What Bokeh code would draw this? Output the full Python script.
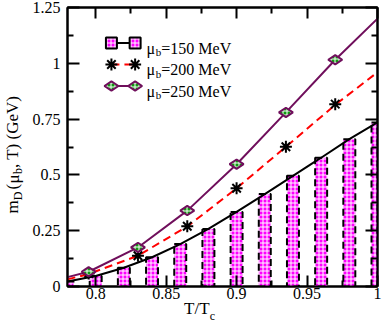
import math
from bokeh.plotting import figure
from bokeh.models import (Range1d, LinearAxis, FixedTicker, CustomJSTickFormatter, Label)
from bokeh.embed import file_html
from bokeh.resources import INLINE

# ---------------- data ----------------
# mu_b = 150 MeV : bars + solid black curve
x150 = [0.78, 0.80, 0.82, 0.84, 0.86, 0.88, 0.90, 0.92, 0.94, 0.96, 0.98, 1.00]
m150 = [0.022, 0.047, 0.084, 0.131, 0.190, 0.258, 0.334, 0.414, 0.496, 0.577, 0.660, 0.735]

# mu_b = 200 MeV : dashed red curve + asterisks
x200_line = [0.78, 0.795, 0.83, 0.865, 0.90, 0.935, 0.97, 1.00]
m200_line = [0.032, 0.056, 0.138, 0.269, 0.440, 0.626, 0.814, 0.960]
x200_pts = [0.795, 0.83, 0.865, 0.90, 0.935, 0.97]
m200_pts = [0.058, 0.138, 0.270, 0.440, 0.626, 0.817]

# mu_b = 250 MeV : solid maroon curve + diamonds
x250_line = [0.78, 0.795, 0.83, 0.865, 0.90, 0.935, 0.97, 1.00]
m250_line = [0.042, 0.066, 0.175, 0.340, 0.548, 0.780, 1.016, 1.200]
x250_pts = [0.795, 0.83, 0.865, 0.90, 0.935, 0.97]
m250_pts = [0.066, 0.175, 0.340, 0.548, 0.780, 1.016]

x_ticks = [0.8, 0.85, 0.9, 0.95, 1.0]
x_minor = [0.825, 0.875, 0.925, 0.975]
y_ticks = [0, 0.25, 0.5, 0.75, 1.0, 1.25]
y_minor = [0.125, 0.375, 0.625, 0.875, 1.125]

legend_labels = ["=150 MeV", "=200 MeV", "=250 MeV"]

# axis titles split into normal / subscript pieces
xtitle_main = ["T/T"]
xtitle_sub = ["c"]
ytitle_main = ["m", "(", "\u03bc", ", T) (GeV)"]
ytitle_sub = ["D", "b"]

# ---------------- layout ----------------
X0, X1 = 0.78, 1.0
Y0, Y1 = 0.0, 1.25
W, H = 382, 327
BL, BR, BT, BB = 63, 5, 7, 41
FL, FR = BL, W - BR          # frame, canvas pixels
FT, FB = BT, H - BB


def dx(cx):
    return X0 + (cx - FL) / (FR - FL) * (X1 - X0)


def dy(cy):
    return Y0 + (FB - cy) / (FB - FT) * (Y1 - Y0)


FONT = "Liberation Serif"
MAGENTA = "#ff00ff"
MAROON = "#700f5c"
GREEN = "#119911"

p = figure(width=W, height=H, output_backend="svg", toolbar_location=None,
           x_range=Range1d(X0, X1), y_range=Range1d(Y0, Y1),
           min_border_left=BL, min_border_right=BR, min_border_top=BT, min_border_bottom=BB)
p.grid.visible = False
p.outline_line_color = "black"
p.outline_line_width = 2
p.background_fill_color = "white"
p.border_fill_color = "white"

fmt = CustomJSTickFormatter(code="return tick.toString();")
blank = CustomJSTickFormatter(code="return '';")


def style_axis(ax, ticks, minor, major_len, labels=True):
    ax.ticker = FixedTicker(ticks=ticks, minor_ticks=minor)
    ax.formatter = fmt if labels else blank
    ax.axis_line_width = 2
    ax.axis_line_color = "black"
    ax.major_tick_in = major_len
    ax.major_tick_out = 0
    ax.minor_tick_in = 6
    ax.minor_tick_out = 0
    ax.major_tick_line_width = 2
    ax.minor_tick_line_width = 2
    ax.major_label_text_font = FONT
    ax.major_label_text_font_size = "16px"
    ax.major_label_text_color = "black"
    if not labels:
        ax.major_label_standoff = 0
        ax.axis_label_standoff = 0


style_axis(p.xaxis[0], x_ticks, x_minor, 11)
p.xaxis[0].major_label_standoff = 1
style_axis(p.yaxis[0], y_ticks, y_minor, 12)
p.yaxis[0].major_label_standoff = 7

top = LinearAxis()
style_axis(top, x_ticks, x_minor, 11, labels=False)
p.add_layout(top, "above")
right = LinearAxis()
style_axis(right, y_ticks, y_minor, 12, labels=False)
p.add_layout(right, "right")


def text_axis(side, positions, texts, size, standoff, orientation="horizontal"):
    """An axis with no line and no ticks, used only to place title text pieces."""
    ax = LinearAxis(ticker=FixedTicker(ticks=positions, minor_ticks=[]),
                    formatter=CustomJSTickFormatter(args=dict(labels=texts),
                                                    code="return labels[index];"))
    ax.axis_line_color = None
    ax.major_tick_line_color = None
    ax.minor_tick_line_color = None
    ax.major_tick_in = 0
    ax.major_tick_out = 0
    ax.minor_tick_in = 0
    ax.minor_tick_out = 0
    ax.major_label_text_font = FONT
    ax.major_label_text_font_size = f"{size}px"
    ax.major_label_text_color = "black"
    ax.major_label_standoff = standoff
    ax.major_label_orientation = orientation
    p.add_layout(ax, side)
    return ax


# x title: "T/T" then subscript "c" (pixel centres converted to data units)
text_axis("below", [dx(194.0)], xtitle_main, 17, -3)
text_axis("below", [dx(209.9)], xtitle_sub, 12, -12)

# y title: main pieces and subscript pieces, reading bottom-to-top
text_axis("left", [dy(206.4), dy(186.2), dy(178.5), dy(131.4)], ytitle_main, 17, 7, "parallel")
text_axis("left", [dy(195.4), dy(170.6)], ytitle_sub, 12, -25, "parallel")

# ---------------- data glyphs ----------------
p.vbar(x=x150, top=m150, bottom=0, width=0.0085,
       fill_color=MAGENTA, hatch_pattern="+", hatch_color="white", hatch_scale=4, hatch_weight=1,
       line_color="black", line_width=2, line_dash="7 4")
p.line(x150, m150, line_color="black", line_width=2)
p.line(x200_line, m200_line, line_color="red", line_width=2, line_dash="8 5")
p.line(x250_line, m250_line, line_color=MAROON, line_width=2)
p.scatter(x200_pts, m200_pts, marker="asterisk", size=12, line_color="black", line_width=2)
p.scatter(x250_pts, m250_pts, marker="diamond", size=14, angle=math.pi / 2,
          fill_color=GREEN, hatch_pattern="+", hatch_color="white", hatch_scale=4, hatch_weight=1,
          line_color=MAROON, line_width=2)

# ---------------- legend (drawn by hand to allow subscripts) ----------------
rows = [42.5, 64, 85.5]
sx = [107.5, 131.5]
lx = [dx(sx[0]), dx(sx[1])]
p.line(lx, [dy(rows[0])] * 2, line_color="black", line_width=2)
p.scatter(lx, [dy(rows[0])] * 2, marker="square", size=11,
          fill_color=MAGENTA, hatch_pattern="+", hatch_color="white", hatch_scale=4, hatch_weight=1,
          line_color="black", line_width=2)
p.line(lx, [dy(rows[1])] * 2, line_color="red", line_width=2, line_dash="8 5")
p.scatter(lx, [dy(rows[1])] * 2, marker="asterisk", size=12, line_color="black", line_width=2)
p.line(lx, [dy(rows[2])] * 2, line_color=MAROON, line_width=2)
p.scatter(lx, [dy(rows[2])] * 2, marker="diamond", size=14, angle=math.pi / 2,
          fill_color=GREEN, hatch_pattern="+", hatch_color="white", hatch_scale=4, hatch_weight=1,
          line_color=MAROON, line_width=2)


def lab(cx, cy, text, size):
    p.add_layout(Label(x=dx(cx), y=dy(cy), text=text,
                       text_font=FONT, text_font_size=f"{size}px", text_color="black",
                       text_align="left", text_baseline="alphabetic"))


for r, t in zip(rows, legend_labels):
    base = r + 5
    lab(143, base, "\u03bc", 16)
    lab(152.5, base + 4, "b", 11)
    lab(158, base, t, 16)

open("out.html", "w").write(file_html(p, INLINE))
